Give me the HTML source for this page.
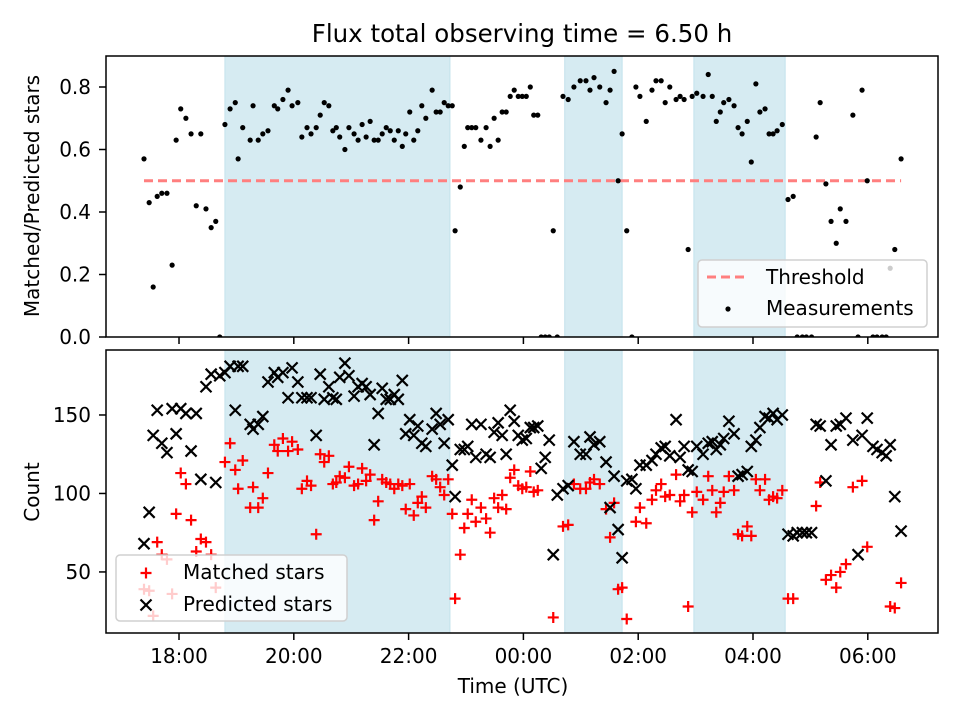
<!DOCTYPE html>
<html><head><meta charset="utf-8"><style>
html,body{margin:0;padding:0;background:#fff;}
svg{display:block;font-family:"DejaVu Sans","Liberation Sans",sans-serif;}
</style></head><body>
<svg id="chart" width="960" height="720" viewBox="0 0 960 720" xmlns="http://www.w3.org/2000/svg">
<rect x="0" y="0" width="960" height="720" fill="#fff"/>
<text x="522" y="42" font-size="24.5" text-anchor="middle">Flux total observing time = 6.50 h</text>
<g id="topPanel"></g>
<g id="botPanel"></g>
<text x="513" y="693" font-size="20" text-anchor="middle">Time (UTC)</text>
<text transform="translate(39,196) rotate(-90)" font-size="20" text-anchor="middle">Matched/Predicted stars</text>
<text transform="translate(39,492) rotate(-90)" font-size="20" text-anchor="middle">Count</text>
</svg>
<script>
const times=[17.39,17.48,17.55,17.62,17.70,17.79,17.88,17.95,18.03,18.12,18.21,18.30,18.38,18.47,18.56,18.64,18.71,18.80,18.89,18.98,19.03,19.11,19.24,19.29,19.38,19.46,19.55,19.66,19.72,19.81,19.90,19.97,20.07,20.14,20.23,20.30,20.39,20.46,20.53,20.61,20.68,20.74,20.80,20.89,20.96,21.05,21.12,21.19,21.26,21.33,21.40,21.47,21.54,21.61,21.68,21.75,21.82,21.89,21.95,22.02,22.09,22.16,22.23,22.30,22.41,22.48,22.55,22.62,22.69,22.76,22.81,22.90,22.97,23.03,23.10,23.17,23.26,23.35,23.42,23.49,23.56,23.63,23.70,23.77,23.84,23.91,23.98,24.05,24.12,24.18,24.25,24.31,24.38,24.45,24.52,24.59,24.69,24.78,24.88,24.99,25.09,25.16,25.23,25.33,25.44,25.51,25.58,25.65,25.72,25.80,25.89,25.96,26.03,26.14,26.24,26.31,26.40,26.47,26.55,26.66,26.73,26.80,26.87,26.94,27.02,27.13,27.22,27.29,27.36,27.43,27.49,27.58,27.67,27.74,27.81,27.90,27.97,28.05,28.12,28.21,28.28,28.35,28.42,28.51,28.61,28.70,28.77,28.86,28.93,29.02,29.10,29.17,29.27,29.36,29.45,29.52,29.62,29.74,29.83,29.90,29.99,30.09,30.16,30.25,30.32,30.39,30.47,30.58];
const ratios=[0.57,0.43,0.16,0.45,0.46,0.46,0.23,0.63,0.73,0.70,0.65,0.42,0.65,0.41,0.35,0.37,0,0.68,0.73,0.75,0.57,0.67,0.63,0.74,0.63,0.65,0.66,0.74,0.73,0.76,0.79,0.74,0.75,0.64,0.67,0.65,0.67,0.71,0.75,0.74,0.66,0.67,0.64,0.60,0.67,0.65,0.63,0.68,0.64,0.69,0.63,0.63,0.65,0.67,0.66,0.63,0.66,0.61,0.65,0.72,0.63,0.66,0.74,0.70,0.79,0.72,0.72,0.75,0.74,0.74,0.34,0.48,0.61,0.67,0.67,0.67,0.63,0.67,0.61,0.70,0.63,0.72,0.72,0.77,0.79,0.77,0.77,0.77,0.80,0.71,0.71,0,0,0,0.34,0,0.77,0.76,0.80,0.82,0.82,0.79,0.83,0.80,0.75,0.79,0.85,0.50,0.65,0.34,0,0.80,0.77,0.69,0.79,0.82,0.82,0.75,0.80,0.76,0.77,0.76,0.28,0.77,0.78,0.77,0.84,0.77,0.69,0.72,0.75,0.76,0.74,0.67,0.65,0.69,0.56,0.81,0.72,0.73,0.65,0.65,0.66,0.68,0.44,0.45,0,0,0,0,0.64,0.75,0.49,0.37,0.30,0.41,0.37,0.71,0,0.79,0.50,0,0,0,0,0.22,0.28,0.57];
const predicted=[68,88,137,153,132,126,154,138,154,151,127,151,109,168,176,107,175,177,181,153,181,181,144,141,144,149,171,177,174,177,161,180,171,161,161,161,137,176,160,168,161,160,174,183,175,162,168,170,168,163,131,151,167,160,160,163,160,172,138,147,137,143,132,130,141,151,144,132,147,118,98,128,128,130,144,123,144,125,123,139,145,137,125,153,146,137,134,135,142,142,143,116,123,134,61,99,103,105,133,125,125,136,131,133,120,91,111,77,59,108,109,103,118,118,121,125,129,130,124,147,123,130,115,114,130,125,132,133,128,131,135,146,138,111,112,114,130,134,142,149,148,151,147,150,74,73,75,75,75,75,144,143,108,131,143,144,148,134,61,137,148,130,128,126,124,131,98,76];
const matched=[39,38,22,69,61,58,36,87,113,106,83,63,71,69,61,40,0,120,132,115,103,121,91,104,91,97,113,131,127,135,127,133,128,103,108,105,74,125,120,124,106,107,111,110,117,105,106,116,108,112,83,95,109,107,106,103,106,105,90,106,86,94,98,91,111,109,104,99,109,87,33,61,78,87,96,82,91,84,75,97,91,99,90,110,115,105,103,104,114,101,102,0,0,0,21,0,79,80,106,103,103,107,109,106,90,72,94,39,40,20,0,82,91,81,96,102,106,98,99,112,95,99,28,88,101,96,111,102,88,94,101,111,102,74,73,79,73,109,102,109,96,98,97,102,33,33,0,0,0,0,92,107,45,48,40,50,55,104,0,108,66,0,0,0,0,28,27,43];
const spanStarts=[18.80,24.72,26.97];
const spanEnds=[22.72,25.72,28.56];
const thresholdValue=0.5;
const xTickValues=[18,20,22,24,26,28,30];
const xTickLabels=["18:00","20:00","22:00","00:00","02:00","04:00","06:00"];
const topTicks=[0,0.2,0.4,0.6,0.8];
const botTicks=[50,100,150];

const NS="http://www.w3.org/2000/svg";
const L=106,R=938;
const X0=16.728,X1=31.223;
const sx=t=>L+(t-X0)/(X1-X0)*(R-L);
const TT=56,TB=337,BT=350,BB=633;
const syT=v=>TB-(v-0)/0.8992*(TB-TT);
const syB=v=>BB-(v-11.1)/(191.4-11.1)*(BB-BT);
function mk(p,tag,attrs){const e=document.createElementNS(NS,tag);for(const k in attrs)e.setAttribute(k,attrs[k]);p.appendChild(e);return e;}
const topG=document.getElementById('topPanel'),botG=document.getElementById('botPanel');

function panel(g,yT,yB,name){
  const cp=mk(g,'clipPath',{id:'clip-'+name});
  mk(cp,'rect',{x:L,y:yT,width:R-L,height:yB-yT});
  for(let i=0;i<spanStarts.length;i++){
    const r=mk(g,'rect',{x:sx(spanStarts[i]),y:yT,width:sx(spanEnds[i])-sx(spanStarts[i]),height:yB-yT,fill:'#d6ebf2',stroke:'#c3e2ec','stroke-width':1});
    
    
  }
  xTickValues.forEach((v,i)=>{
    const x=sx(v);
    mk(g,'line',{x1:x,x2:x,y1:yB,y2:yB+7,stroke:'#000','stroke-width':1.5});
    if(name==='bottom'){
      const t=mk(g,'text',{x:x,y:yB+30,'font-size':20,'text-anchor':'middle'});
      t.textContent=xTickLabels[i];
      
      
    }
  });
}
panel(topG,TT,TB,'top');
panel(botG,BT,BB,'bottom');

topTicks.forEach(v=>{
  const y=syT(v);
  mk(topG,'line',{x1:L-7,x2:L,y1:y,y2:y,stroke:'#000','stroke-width':1.5});
  const t=mk(topG,'text',{x:L-15,y:y+7,'font-size':20,'text-anchor':'end'});
  t.textContent=v.toFixed(1);
  
  
});
botTicks.forEach(v=>{
  const y=syB(v);
  mk(botG,'line',{x1:L-7,x2:L,y1:y,y2:y,stroke:'#000','stroke-width':1.5});
  const t=mk(botG,'text',{x:L-15,y:y+7,'font-size':20,'text-anchor':'end'});
  t.textContent=String(v);
  
  
});

const th=mk(topG,'line',{x1:sx(times[0]),x2:sx(times[times.length-1]),y1:syT(thresholdValue),y2:syT(thresholdValue),stroke:'#ff7f7f','stroke-width':3,'stroke-dasharray':'9,5'});



const gT=mk(topG,'g',{'clip-path':'url(#clip-top)'});
times.forEach((t,i)=>{
  if(ratios[i]===undefined)return;
  const c=mk(gT,'circle',{cx:sx(t),cy:syT(ratios[i]),r:2.6,fill:'#000'});
  
  
});

const gB=mk(botG,'g',{'clip-path':'url(#clip-bottom)'});
const s=5.5;
times.forEach((t,i)=>{
  if(matched[i]===undefined)return;
  const x=sx(t),y=syB(matched[i]);
  const p=mk(gB,'path',{d:`M${x-s} ${y}H${x+s}M${x} ${y-s}V${y+s}`,stroke:'#ff0000','stroke-width':2.2,fill:'none'});
  
  
});
times.forEach((t,i)=>{
  if(predicted[i]===undefined)return;
  const x=sx(t),y=syB(predicted[i]);
  const p=mk(gB,'path',{d:`M${x-s} ${y-s}L${x+s} ${y+s}M${x-s} ${y+s}L${x+s} ${y-s}`,stroke:'#000','stroke-width':2.2,fill:'none'});
  
  
});

mk(topG,'rect',{x:L,y:TT,width:R-L,height:TB-TT,fill:'none',stroke:'#000','stroke-width':1.5});
mk(botG,'rect',{x:L,y:BT,width:R-L,height:BB-BT,fill:'none',stroke:'#000','stroke-width':1.5});

const lg1=mk(topG,'g',{});


mk(lg1,'rect',{x:698,y:260,width:229,height:67,rx:4,fill:'rgba(255,255,255,0.8)',stroke:'#d0d0d0','stroke-width':1.5});
mk(lg1,'line',{x1:707,x2:749,y1:277,y2:277,stroke:'#ff7f7f','stroke-width':3,'stroke-dasharray':'9,5'});
const l1=mk(lg1,'text',{x:766,y:284,'font-size':20});l1.textContent='Threshold';
mk(lg1,'circle',{cx:728,cy:309,r:2.6,fill:'#000'});
const l2=mk(lg1,'text',{x:766,y:315,'font-size':20});l2.textContent='Measurements';

const lg2=mk(botG,'g',{});


mk(lg2,'rect',{x:116,y:555,width:231,height:66,rx:4,fill:'rgba(255,255,255,0.8)',stroke:'#d0d0d0','stroke-width':1.5});
mk(lg2,'path',{d:'M140.5 573H151.5M146 567.5V578.5',stroke:'#ff0000','stroke-width':2.2});
const l3=mk(lg2,'text',{x:183,y:579,'font-size':20});l3.textContent='Matched stars';
mk(lg2,'path',{d:'M140.5 599.5L151.5 610.5M140.5 610.5L151.5 599.5',stroke:'#000','stroke-width':2.2});
const l4=mk(lg2,'text',{x:183,y:611,'font-size':20});l4.textContent='Predicted stars';
</script>
</body></html>
